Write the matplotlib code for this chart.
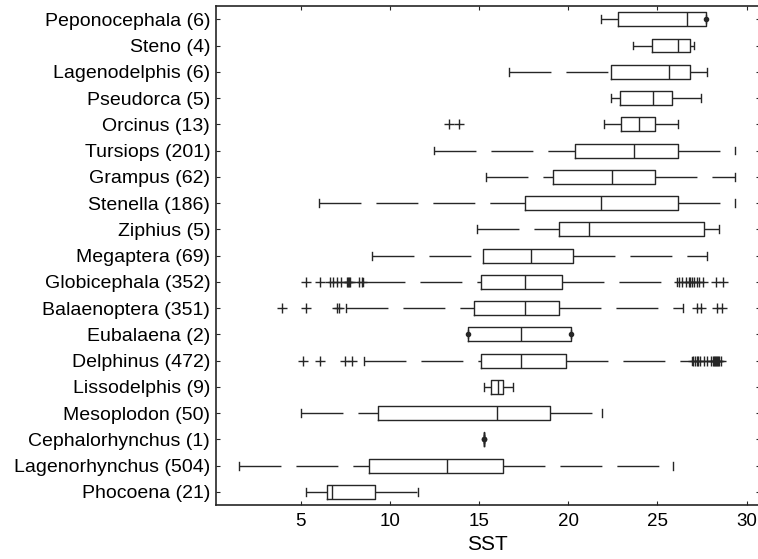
import matplotlib.pyplot as plt

plt.rcParams['font.family'] = ['Liberation Sans', 'DejaVu Sans']
plt.rcParams['lines.scale_dashes'] = False

# Genres, du haut vers le bas, avec le nombre d'observations
genres = ['Peponocephala', 'Steno', 'Lagenodelphis', 'Pseudorca', 'Orcinus',
          'Tursiops', 'Grampus', 'Stenella', 'Ziphius', 'Megaptera',
          'Globicephala', 'Balaenoptera', 'Eubalaena', 'Delphinus',
          'Lissodelphis', 'Mesoplodon', 'Cephalorhynchus', 'Lagenorhynchus',
          'Phocoena']
effectifs = [6, 4, 6, 5, 13, 201, 62, 186, 5, 69, 352, 351, 2, 472, 9, 50, 1, 504, 21]

# Statistiques des boîtes (SST)
whis_bas = [21.85, 23.62, 16.67, 22.40, 21.99, 12.48, 15.38, 6.04, 14.86, 8.99,
            8.52, 7.54, 14.38, 8.55, 15.28, 5.00, 15.30, 1.55, 5.30]
q1 = [22.80, 24.67, 22.40, 22.88, 22.96, 20.36, 19.13, 17.57, 19.47, 15.20,
      15.12, 14.72, 14.38, 15.12, 15.67, 9.31, 15.30, 8.83, 6.46]
mediane = [26.65, 26.15, 25.67, 24.77, 23.95, 23.70, 22.48, 21.84, 21.18, 17.89,
           17.57, 17.57, 17.33, 17.33, 16.07, 16.03, 15.30, 13.22, 6.78]
q3 = [27.74, 26.81, 26.81, 25.81, 24.85, 26.15, 24.85, 26.15, 27.61, 20.26,
      19.63, 19.47, 20.18, 19.86, 16.33, 18.97, 15.30, 16.33, 9.17]
whis_haut = [27.74, 27.05, 27.79, 27.47, 26.15, 29.34, 29.34, 29.34, 28.44, 27.79,
             26.12, 26.41, 20.18, 26.94, 16.93, 21.90, 15.30, 25.89, 11.60]

# Valeurs aberrantes
aberrants = [
    [], [], [], [],
    [13.32, 13.88],
    [], [], [], [], [],
    [5.32, 6.10, 6.66, 6.80, 7.02, 7.26, 7.62, 7.68, 7.72, 7.76, 8.27, 8.46,
     26.20, 26.40, 26.60, 26.75, 26.85, 26.95, 27.05, 27.20, 27.35, 27.55, 28.30, 28.70],
    [3.97, 5.28, 7.02, 7.16, 27.23, 27.42, 28.35, 28.60],
    [],
    [5.15, 6.08, 7.48, 7.86,
     27.00, 27.10, 27.20, 27.30, 27.40, 27.60, 27.80, 28.00, 28.10, 28.20,
     28.25, 28.30, 28.35, 28.40, 28.45, 28.55],
    [], [], [], [], [],
]

n = len(genres)
positions = [n - i for i in range(n)]
labels = [f'{g} ({e})' for g, e in zip(genres, effectifs)]

stats = []
for i in range(n):
    stats.append(dict(whislo=whis_bas[i], q1=q1[i], med=mediane[i], q3=q3[i],
                      whishi=whis_haut[i], fliers=aberrants[i]))

col = '#262626'
fig = plt.figure(figsize=(7.58, 5.59), dpi=100)
ax = fig.add_axes([0.2846, 0.0966, 0.7180, 0.8924])

res = ax.bxp(stats, positions=positions, orientation='horizontal', widths=0.53,
             capwidths=0.3, showfliers=True,
             boxprops=dict(color=col, linewidth=1.0),
             medianprops=dict(color=col, linewidth=1.0),
             whiskerprops=dict(color=col, linewidth=1.0, linestyle=(0, (30.2, 10.8))),
             capprops=dict(color=col, linewidth=1.0),
             flierprops=dict(marker='+', markersize=7, markeredgecolor=col,
                             markeredgewidth=1.0, linestyle='none'))

# les tirets de la moustache basse partent de l'extrémité
for k in range(n):
    w = res['whiskers'][2 * k]
    w.set_xdata(w.get_xdata()[::-1])

# point quand la moustache est de longueur nulle
for i in range(n):
    if whis_bas[i] == q1[i]:
        ax.plot(whis_bas[i], positions[i], 'o', color=col, markersize=3)
    if whis_haut[i] == q3[i]:
        ax.plot(whis_haut[i], positions[i], 'o', color=col, markersize=3)

ax.set_xlim(0.24, 30.75)
ax.set_ylim(0.5, n + 0.5)
ax.set_xticks([5, 10, 15, 20, 25, 30])
ax.set_xticklabels(['5', '10', '15', '20', '25', '30'])
ax.set_yticks(positions)
ax.set_yticklabels(labels)
ax.tick_params(axis='both', direction='in', length=3, width=0.8, color=col,
               top=True, right=True)
ax.tick_params(axis='y', pad=4, labelsize=14)
ax.tick_params(axis='x', pad=6, labelsize=13.5)
for s in ax.spines.values():
    s.set_linewidth(1.2)
    s.set_color(col)
ax.set_xlabel('SST', fontsize=15, labelpad=3)

fig.savefig('out.png', dpi=100)
